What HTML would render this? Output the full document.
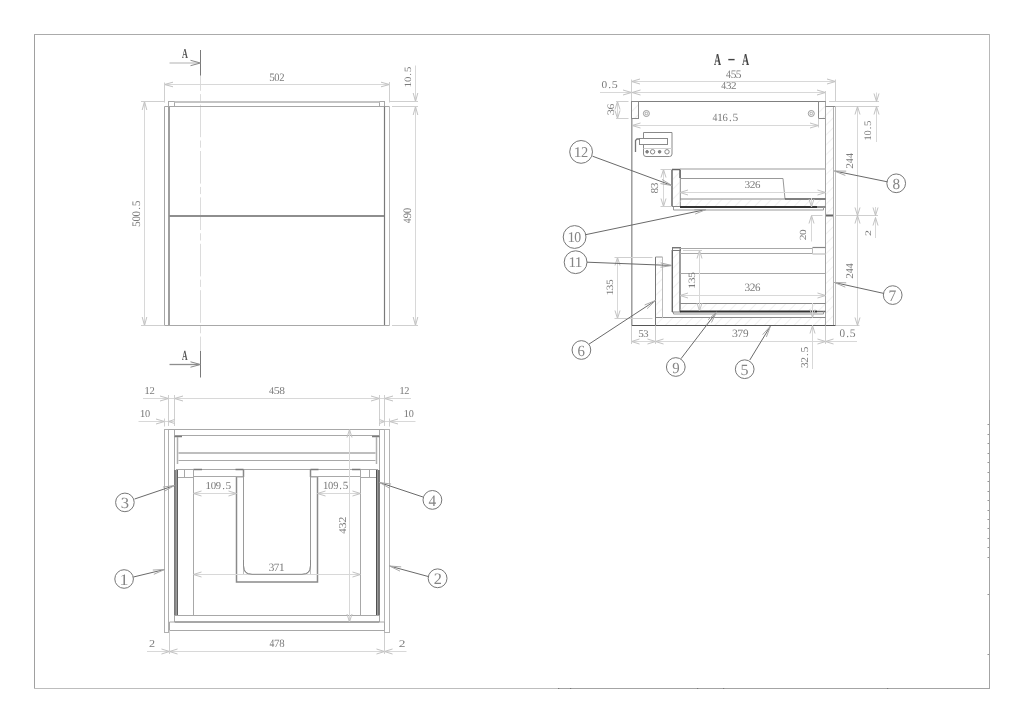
<!DOCTYPE html>
<html><head><meta charset="utf-8"><style>
html,body{margin:0;padding:0;background:#fff;}
svg{display:block;will-change:transform;}
text{text-rendering:geometricPrecision;}
</style></head><body>
<svg width="1024" height="723" viewBox="0 0 1024 723" shape-rendering="auto">
<defs>
<pattern id="hat" patternUnits="userSpaceOnUse" width="7" height="7" patternTransform="rotate(45)">
<line x1="0" y1="0" x2="0" y2="7" stroke="#e2e2e2" stroke-width="1"/>
</pattern>
</defs>
<rect width="1024" height="723" fill="#fff"/>
<line x1="34.5" y1="34" x2="34.5" y2="689" stroke="#a0a0a0" stroke-width="1" />
<line x1="34" y1="34.5" x2="990" y2="34.5" stroke="#ababab" stroke-width="1" />
<line x1="989.5" y1="34" x2="989.5" y2="400" stroke="#b8b8b8" stroke-width="1" />
<line x1="989.5" y1="400" x2="989.5" y2="689" stroke="#a4a4a4" stroke-width="1" />
<line x1="34" y1="688.5" x2="558" y2="688.5" stroke="#bdbdbd" stroke-width="1" />
<line x1="558" y1="688.5" x2="990" y2="688.5" stroke="#a4a4a4" stroke-width="1" />
<line x1="987.5" y1="424.5" x2="989" y2="424.5" stroke="#999" stroke-width="1" />
<line x1="987.5" y1="434.5" x2="989" y2="434.5" stroke="#999" stroke-width="1" />
<line x1="987.5" y1="443.5" x2="989" y2="443.5" stroke="#999" stroke-width="1" />
<line x1="987.5" y1="453.5" x2="989" y2="453.5" stroke="#999" stroke-width="1" />
<line x1="987.5" y1="462.5" x2="989" y2="462.5" stroke="#999" stroke-width="1" />
<line x1="987.5" y1="472.5" x2="989" y2="472.5" stroke="#999" stroke-width="1" />
<line x1="987.5" y1="481.5" x2="989" y2="481.5" stroke="#999" stroke-width="1" />
<line x1="987.5" y1="491.5" x2="989" y2="491.5" stroke="#999" stroke-width="1" />
<line x1="987.5" y1="500.5" x2="989" y2="500.5" stroke="#999" stroke-width="1" />
<line x1="987.5" y1="510.5" x2="989" y2="510.5" stroke="#999" stroke-width="1" />
<line x1="987.5" y1="519.5" x2="989" y2="519.5" stroke="#999" stroke-width="1" />
<line x1="987.5" y1="528.5" x2="989" y2="528.5" stroke="#999" stroke-width="1" />
<line x1="987.5" y1="538.5" x2="989" y2="538.5" stroke="#999" stroke-width="1" />
<line x1="987.5" y1="547.5" x2="989" y2="547.5" stroke="#999" stroke-width="1" />
<line x1="987.5" y1="557.5" x2="989" y2="557.5" stroke="#999" stroke-width="1" />
<line x1="987.5" y1="594.5" x2="989" y2="594.5" stroke="#999" stroke-width="1" />
<line x1="987.5" y1="654.5" x2="989" y2="654.5" stroke="#999" stroke-width="1" />
<line x1="200.5" y1="50" x2="200.5" y2="76" stroke="#7a7a7a" stroke-width="1" />
<line x1="169.5" y1="63" x2="199" y2="63" stroke="#cfcfcf" stroke-width="1.6" />
<polyline points="190.5,60.3 200.5,63 190.5,65.7" stroke="#8a8a8a" stroke-width="1" fill="none"/>
<text transform="matrix(0.08099,0,0,0.13636,181.919,58.000)" font-family='"Liberation Serif", serif' font-size="100" fill="#555" font-weight="bold">A</text>
<line x1="200.5" y1="351" x2="200.5" y2="377.5" stroke="#7a7a7a" stroke-width="1" />
<line x1="169.5" y1="364.5" x2="199" y2="364.5" stroke="#8e8e8e" stroke-width="1.3" />
<polyline points="190.5,361.8 200.5,364.5 190.5,367.2" stroke="#8a8a8a" stroke-width="1" fill="none"/>
<text transform="matrix(0.07746,0,0,0.13939,181.923,359.500)" font-family='"Liberation Serif", serif' font-size="100" fill="#555" font-weight="bold">A</text>
<line x1="200.5" y1="75.5" x2="200.5" y2="351" stroke="#dcdcdc" stroke-width="1" stroke-dasharray="32.6 3.3 7.2 3.3" stroke-dashoffset="17.3"/>
<line x1="164.5" y1="84.5" x2="389.5" y2="84.5" stroke="#d8d8d8" stroke-width="1" />
<polyline points="173.0,82.2 164.5,84.5 173.0,86.8" stroke="#c2c2c2" stroke-width="1" fill="none"/>
<polyline points="381.0,82.2 389.5,84.5 381.0,86.8" stroke="#c2c2c2" stroke-width="1" fill="none"/>
<line x1="164.5" y1="82.5" x2="164.5" y2="102.5" stroke="#cfcfcf" stroke-width="1" />
<line x1="389.5" y1="82" x2="389.5" y2="102.5" stroke="#cfcfcf" stroke-width="1" />
<text transform="matrix(0.11017,0,0,0.11343,269.139,80.587)" font-family='"Liberation Serif", serif' font-size="100" fill="#7c7c7c">5</text>
<text transform="matrix(0.10493,0,0,0.11343,274.277,80.587)" font-family='"Liberation Serif", serif' font-size="100" fill="#7c7c7c">0</text>
<text transform="matrix(0.10749,0,0,0.11343,279.163,80.587)" font-family='"Liberation Serif", serif' font-size="100" fill="#7c7c7c">2</text>
<rect x="168.5" y="101.5" width="6.0" height="5.0" stroke="#a8a8a8" stroke-width="1" fill="none"/>
<rect x="379.5" y="101.5" width="5.0" height="5.0" stroke="#a8a8a8" stroke-width="1" fill="none"/>
<line x1="174.5" y1="102" x2="379.5" y2="102" stroke="#c4c4c4" stroke-width="2" />
<line x1="164.5" y1="106.5" x2="389.5" y2="106.5" stroke="#a6a6a6" stroke-width="1" />
<line x1="164.5" y1="106.5" x2="164.5" y2="325.5" stroke="#a6a6a6" stroke-width="1" />
<line x1="389.5" y1="106.5" x2="389.5" y2="325.5" stroke="#bcbcbc" stroke-width="1" />
<line x1="169" y1="106.5" x2="169" y2="325.5" stroke="#a0a0a0" stroke-width="2" />
<line x1="384.5" y1="106.5" x2="384.5" y2="325.5" stroke="#7a7a7a" stroke-width="1.2" />
<line x1="169" y1="216" x2="384" y2="216" stroke="#8e8e8e" stroke-width="1.8" />
<line x1="164.5" y1="325.5" x2="389.5" y2="325.5" stroke="#a8a8a8" stroke-width="1" />
<line x1="144.5" y1="101.5" x2="144.5" y2="325.5" stroke="#d8d8d8" stroke-width="1" />
<polyline points="142.2,110.0 144.5,101.5 146.8,110.0" stroke="#c2c2c2" stroke-width="1" fill="none"/>
<polyline points="142.2,317.0 144.5,325.5 146.8,317.0" stroke="#c2c2c2" stroke-width="1" fill="none"/>
<line x1="141" y1="101.5" x2="164" y2="101.5" stroke="#cfcfcf" stroke-width="1" />
<line x1="141" y1="325.5" x2="164" y2="325.5" stroke="#cfcfcf" stroke-width="1" />
<text transform="matrix(0,-0.11617,0.11493,0,140.085,226.997)" font-family='"Liberation Serif", serif' font-size="100" fill="#7c7c7c">5</text>
<text transform="matrix(0,-0.11064,0.11493,0,140.085,221.579)" font-family='"Liberation Serif", serif' font-size="100" fill="#7c7c7c">0</text>
<text transform="matrix(0,-0.11064,0.11493,0,140.085,216.416)" font-family='"Liberation Serif", serif' font-size="100" fill="#7c7c7c">0</text>
<text transform="matrix(0,-0.11064,0.11493,0,140.085,209.870)" font-family='"Liberation Serif", serif' font-size="100" fill="#7c7c7c">.</text>
<text transform="matrix(0,-0.11617,0.11493,0,140.085,206.344)" font-family='"Liberation Serif", serif' font-size="100" fill="#7c7c7c">5</text>
<line x1="415.5" y1="65.5" x2="415.5" y2="101.5" stroke="#d8d8d8" stroke-width="1" />
<polyline points="413.2,93.0 415.5,101.5 417.8,93.0" stroke="#c2c2c2" stroke-width="1" fill="none"/>
<line x1="415.5" y1="106.5" x2="415.5" y2="325.5" stroke="#d8d8d8" stroke-width="1" />
<polyline points="413.2,115.0 415.5,106.5 417.8,115.0" stroke="#c2c2c2" stroke-width="1" fill="none"/>
<polyline points="413.2,317.0 415.5,325.5 417.8,317.0" stroke="#c2c2c2" stroke-width="1" fill="none"/>
<line x1="389.5" y1="101.5" x2="418" y2="101.5" stroke="#cfcfcf" stroke-width="1" />
<line x1="392" y1="106.5" x2="418" y2="106.5" stroke="#cfcfcf" stroke-width="1" />
<line x1="392" y1="325.5" x2="418" y2="325.5" stroke="#cfcfcf" stroke-width="1" />
<text transform="matrix(0,-0.11846,0.09701,0,410.903,87.478)" font-family='"Liberation Serif", serif' font-size="100" fill="#7c7c7c">1</text>
<text transform="matrix(0,-0.10769,0.09701,0,410.903,82.005)" font-family='"Liberation Serif", serif' font-size="100" fill="#7c7c7c">0</text>
<text transform="matrix(0,-0.10769,0.09701,0,410.903,75.633)" font-family='"Liberation Serif", serif' font-size="100" fill="#7c7c7c">.</text>
<text transform="matrix(0,-0.11308,0.09701,0,410.903,72.202)" font-family='"Liberation Serif", serif' font-size="100" fill="#7c7c7c">5</text>
<text transform="matrix(0,-0.09707,0.11343,0,411.387,223.194)" font-family='"Liberation Serif", serif' font-size="100" fill="#7c7c7c">4</text>
<text transform="matrix(0,-0.10609,0.11343,0,411.387,218.249)" font-family='"Liberation Serif", serif' font-size="100" fill="#7c7c7c">9</text>
<text transform="matrix(0,-0.10862,0.11343,0,411.387,213.297)" font-family='"Liberation Serif", serif' font-size="100" fill="#7c7c7c">0</text>
<line x1="143" y1="398.5" x2="411" y2="398.5" stroke="#d8d8d8" stroke-width="1" />
<polyline points="160.0,396.0 168.5,398.5 160.0,401.0" stroke="#c2c2c2" stroke-width="1" fill="none"/>
<polyline points="183.0,396.0 174.5,398.5 183.0,401.0" stroke="#c2c2c2" stroke-width="1" fill="none"/>
<polyline points="371.0,396.0 379.5,398.5 371.0,401.0" stroke="#c2c2c2" stroke-width="1" fill="none"/>
<polyline points="393.0,396.0 384.5,398.5 393.0,401.0" stroke="#c2c2c2" stroke-width="1" fill="none"/>
<line x1="168.5" y1="395" x2="168.5" y2="426" stroke="#cfcfcf" stroke-width="1" />
<line x1="174.5" y1="395" x2="174.5" y2="426" stroke="#cfcfcf" stroke-width="1" />
<line x1="379.5" y1="395" x2="379.5" y2="426" stroke="#cfcfcf" stroke-width="1" />
<line x1="384.5" y1="395" x2="384.5" y2="426" stroke="#cfcfcf" stroke-width="1" />
<text transform="matrix(0.11414,0,0,0.10448,144.154,393.896)" font-family='"Liberation Serif", serif' font-size="100" fill="#7c7c7c">1</text>
<text transform="matrix(0.10629,0,0,0.10448,149.417,393.896)" font-family='"Liberation Serif", serif' font-size="100" fill="#7c7c7c">2</text>
<text transform="matrix(0.10169,0,0,0.10448,268.997,393.896)" font-family='"Liberation Serif", serif' font-size="100" fill="#7c7c7c">4</text>
<text transform="matrix(0.11948,0,0,0.10448,273.793,393.896)" font-family='"Liberation Serif", serif' font-size="100" fill="#7c7c7c">5</text>
<text transform="matrix(0.11379,0,0,0.10448,279.366,393.896)" font-family='"Liberation Serif", serif' font-size="100" fill="#7c7c7c">8</text>
<text transform="matrix(0.11165,0,0,0.10448,399.173,393.896)" font-family='"Liberation Serif", serif' font-size="100" fill="#7c7c7c">1</text>
<text transform="matrix(0.10398,0,0,0.10448,404.321,393.896)" font-family='"Liberation Serif", serif' font-size="100" fill="#7c7c7c">2</text>
<line x1="138.5" y1="421.5" x2="174.5" y2="421.5" stroke="#d8d8d8" stroke-width="1" />
<polyline points="156.0,419.0 164.5,421.5 156.0,424.0" stroke="#c2c2c2" stroke-width="1" fill="none"/>
<polyline points="174.5,419.5 168.5,421.5 174.5,423.5" stroke="#c2c2c2" stroke-width="1" fill="none"/>
<line x1="164.5" y1="418.5" x2="164.5" y2="426.5" stroke="#cfcfcf" stroke-width="1" />
<line x1="379.5" y1="421.5" x2="415.5" y2="421.5" stroke="#d8d8d8" stroke-width="1" />
<polyline points="379.5,419.5 384.5,421.5 379.5,423.5" stroke="#c2c2c2" stroke-width="1" fill="none"/>
<polyline points="398.0,419.0 389.5,421.5 398.0,424.0" stroke="#c2c2c2" stroke-width="1" fill="none"/>
<line x1="389.5" y1="418.5" x2="389.5" y2="426.5" stroke="#cfcfcf" stroke-width="1" />
<text transform="matrix(0.11352,0,0,0.10448,139.759,416.896)" font-family='"Liberation Serif", serif' font-size="100" fill="#7c7c7c">1</text>
<text transform="matrix(0.10320,0,0,0.10448,145.003,416.896)" font-family='"Liberation Serif", serif' font-size="100" fill="#7c7c7c">0</text>
<text transform="matrix(0.11165,0,0,0.10448,403.573,416.896)" font-family='"Liberation Serif", serif' font-size="100" fill="#7c7c7c">1</text>
<text transform="matrix(0.10150,0,0,0.10448,408.731,416.896)" font-family='"Liberation Serif", serif' font-size="100" fill="#7c7c7c">0</text>
<rect x="164.5" y="429.5" width="4.0" height="203.0" stroke="#b0b0b0" stroke-width="1" fill="none"/>
<rect x="384.5" y="429.5" width="5.0" height="203.0" stroke="#b4b4b4" stroke-width="1" fill="none"/>
<line x1="168.5" y1="429.5" x2="384.5" y2="429.5" stroke="#a8a8a8" stroke-width="1" />
<line x1="174.5" y1="429.5" x2="174.5" y2="622" stroke="#a8a8a8" stroke-width="1" />
<line x1="379.5" y1="429.5" x2="379.5" y2="622" stroke="#a8a8a8" stroke-width="1" />
<line x1="174.5" y1="435.5" x2="379.5" y2="435.5" stroke="#a8a8a8" stroke-width="1" />
<line x1="174.5" y1="436.5" x2="182" y2="436.5" stroke="#7a7a7a" stroke-width="1.5" />
<line x1="372" y1="436.5" x2="379.5" y2="436.5" stroke="#7a7a7a" stroke-width="1.5" />
<line x1="177.5" y1="437" x2="177.5" y2="464" stroke="#b0b0b0" stroke-width="1.5" />
<line x1="376.5" y1="437" x2="376.5" y2="464" stroke="#b0b0b0" stroke-width="1.5" />
<line x1="178.5" y1="453" x2="375.5" y2="453" stroke="#a8a8a8" stroke-width="1.5" />
<line x1="178.5" y1="460.5" x2="375.5" y2="460.5" stroke="#a8a8a8" stroke-width="1" />
<line x1="176" y1="469.5" x2="378" y2="469.5" stroke="#a8a8a8" stroke-width="1" />
<line x1="193.5" y1="469.5" x2="202" y2="469.5" stroke="#7a7a7a" stroke-width="1.5" />
<line x1="235.5" y1="469.5" x2="243.5" y2="469.5" stroke="#7a7a7a" stroke-width="1.5" />
<line x1="310.5" y1="469.5" x2="318.5" y2="469.5" stroke="#7a7a7a" stroke-width="1.5" />
<line x1="352" y1="469.5" x2="360.5" y2="469.5" stroke="#7a7a7a" stroke-width="1.5" />
<line x1="184.5" y1="469.5" x2="184.5" y2="477.5" stroke="#a8a8a8" stroke-width="1" />
<line x1="369.5" y1="469.5" x2="369.5" y2="477.5" stroke="#a8a8a8" stroke-width="1" />
<line x1="193.5" y1="476.5" x2="243.5" y2="476.5" stroke="#a8a8a8" stroke-width="1" />
<line x1="310.5" y1="476.5" x2="360.5" y2="476.5" stroke="#a8a8a8" stroke-width="1" />
<line x1="176" y1="477.5" x2="193.5" y2="477.5" stroke="#a8a8a8" stroke-width="1" />
<line x1="360.5" y1="477.5" x2="378" y2="477.5" stroke="#a8a8a8" stroke-width="1" />
<line x1="193.5" y1="469.5" x2="193.5" y2="615.5" stroke="#a8a8a8" stroke-width="1" />
<line x1="360.5" y1="469.5" x2="360.5" y2="615.5" stroke="#a8a8a8" stroke-width="1" />
<line x1="243.5" y1="469.5" x2="243.5" y2="477" stroke="#888" stroke-width="1.5" />
<line x1="310.5" y1="469.5" x2="310.5" y2="477" stroke="#888" stroke-width="1.5" />
<path d="M236.5,477 V582 H317.5 V477" stroke="#8a8a8a" stroke-width="1.5" fill="none"/>
<path d="M243.5,477 V566 Q243.5,574.5 252,574.5 H302 Q310.5,574.5 310.5,566 V477" stroke="#9a9a9a" stroke-width="1" fill="none"/>
<line x1="243.5" y1="566" x2="243.5" y2="574.5" stroke="#c0c0c0" stroke-width="1" />
<line x1="310.5" y1="566" x2="310.5" y2="574.5" stroke="#c0c0c0" stroke-width="1" />
<line x1="236.5" y1="477" x2="243.5" y2="477" stroke="#a8a8a8" stroke-width="1" />
<line x1="310.5" y1="477" x2="317.5" y2="477" stroke="#a8a8a8" stroke-width="1" />
<rect x="174" y="470" width="1" height="145.5" fill="#7a7a7a"/>
<rect x="175" y="470" width="1" height="145.5" fill="#888"/>
<rect x="176" y="470" width="1" height="145.5" fill="#9a9a9a"/>
<rect x="177" y="470" width="1" height="145.5" fill="#606060"/>
<rect x="376" y="470" width="1" height="145.5" fill="#505050"/>
<rect x="377" y="470" width="1" height="145.5" fill="#999"/>
<rect x="378" y="470" width="1" height="145.5" fill="#777"/>
<rect x="379" y="470" width="1" height="145.5" fill="#7a7a7a"/>
<line x1="174.5" y1="615.5" x2="379.5" y2="615.5" stroke="#a8a8a8" stroke-width="1" />
<line x1="174.5" y1="615.5" x2="174.5" y2="622" stroke="#a8a8a8" stroke-width="1" />
<line x1="379.5" y1="615.5" x2="379.5" y2="622" stroke="#a8a8a8" stroke-width="1" />
<line x1="174.5" y1="622" x2="379.5" y2="622" stroke="#8a8a8a" stroke-width="1.5" />
<line x1="169.5" y1="622" x2="169.5" y2="630.5" stroke="#a8a8a8" stroke-width="1" />
<line x1="384.5" y1="622" x2="384.5" y2="630.5" stroke="#a8a8a8" stroke-width="1" />
<line x1="169.5" y1="630.5" x2="384.5" y2="630.5" stroke="#a8a8a8" stroke-width="1" />
<line x1="169.5" y1="622" x2="174.5" y2="622" stroke="#a8a8a8" stroke-width="1" />
<line x1="379.5" y1="622" x2="384.5" y2="622" stroke="#a8a8a8" stroke-width="1" />
<line x1="193.5" y1="493.5" x2="236.5" y2="493.5" stroke="#d8d8d8" stroke-width="1" />
<polyline points="201.5,491.0 193.5,493.5 201.5,496.0" stroke="#c2c2c2" stroke-width="1" fill="none"/>
<polyline points="228.5,491.0 236.5,493.5 228.5,496.0" stroke="#c2c2c2" stroke-width="1" fill="none"/>
<line x1="317.5" y1="493.5" x2="360.5" y2="493.5" stroke="#d8d8d8" stroke-width="1" />
<polyline points="325.5,491.0 317.5,493.5 325.5,496.0" stroke="#c2c2c2" stroke-width="1" fill="none"/>
<polyline points="352.5,491.0 360.5,493.5 352.5,496.0" stroke="#c2c2c2" stroke-width="1" fill="none"/>
<text transform="matrix(0.11882,0,0,0.10597,205.220,489.194)" font-family='"Liberation Serif", serif' font-size="100" fill="#7c7c7c">1</text>
<text transform="matrix(0.10802,0,0,0.10597,210.709,489.194)" font-family='"Liberation Serif", serif' font-size="100" fill="#7c7c7c">0</text>
<text transform="matrix(0.10551,0,0,0.10597,215.865,489.194)" font-family='"Liberation Serif", serif' font-size="100" fill="#7c7c7c">9</text>
<text transform="matrix(0.10802,0,0,0.10597,222.141,489.194)" font-family='"Liberation Serif", serif' font-size="100" fill="#7c7c7c">.</text>
<text transform="matrix(0.11342,0,0,0.10597,225.583,489.194)" font-family='"Liberation Serif", serif' font-size="100" fill="#7c7c7c">5</text>
<text transform="matrix(0.11641,0,0,0.10896,322.737,489.391)" font-family='"Liberation Serif", serif' font-size="100" fill="#7c7c7c">1</text>
<text transform="matrix(0.10583,0,0,0.10896,328.115,489.391)" font-family='"Liberation Serif", serif' font-size="100" fill="#7c7c7c">0</text>
<text transform="matrix(0.10337,0,0,0.10896,333.167,489.391)" font-family='"Liberation Serif", serif' font-size="100" fill="#7c7c7c">9</text>
<text transform="matrix(0.10583,0,0,0.10896,339.316,489.391)" font-family='"Liberation Serif", serif' font-size="100" fill="#7c7c7c">.</text>
<text transform="matrix(0.11112,0,0,0.10896,342.688,489.391)" font-family='"Liberation Serif", serif' font-size="100" fill="#7c7c7c">5</text>
<line x1="193.5" y1="574.5" x2="360.5" y2="574.5" stroke="#d8d8d8" stroke-width="1" />
<polyline points="201.5,572.0 193.5,574.5 201.5,577.0" stroke="#c2c2c2" stroke-width="1" fill="none"/>
<polyline points="352.5,572.0 360.5,574.5 352.5,577.0" stroke="#c2c2c2" stroke-width="1" fill="none"/>
<text transform="matrix(0.11278,0,0,0.11194,268.836,570.588)" font-family='"Liberation Serif", serif' font-size="100" fill="#7c7c7c">3</text>
<text transform="matrix(0.11278,0,0,0.11194,273.861,570.588)" font-family='"Liberation Serif", serif' font-size="100" fill="#7c7c7c">7</text>
<text transform="matrix(0.12111,0,0,0.11194,278.779,570.588)" font-family='"Liberation Serif", serif' font-size="100" fill="#7c7c7c">1</text>
<path d="M243.5,560 V565.5 Q243.5,574.3 252,574.3 H302 Q310.5,574.3 310.5,565.5 V560" stroke="#8a8a8a" stroke-width="1" fill="none"/>
<line x1="349.5" y1="429.5" x2="349.5" y2="622" stroke="#d8d8d8" stroke-width="1" />
<polyline points="347.0,437.5 349.5,429.5 352.0,437.5" stroke="#c2c2c2" stroke-width="1" fill="none"/>
<polyline points="347.0,614 349.5,622 352.0,614" stroke="#c2c2c2" stroke-width="1" fill="none"/>
<text transform="matrix(0,-0.10697,0.10448,0,345.896,533.714)" font-family='"Liberation Serif", serif' font-size="100" fill="#7c7c7c">4</text>
<text transform="matrix(0,-0.12262,0.10448,0,345.896,528.527)" font-family='"Liberation Serif", serif' font-size="100" fill="#7c7c7c">3</text>
<text transform="matrix(0,-0.12262,0.10448,0,345.896,522.818)" font-family='"Liberation Serif", serif' font-size="100" fill="#7c7c7c">2</text>
<line x1="147" y1="651.5" x2="406.5" y2="651.5" stroke="#d8d8d8" stroke-width="1" />
<polyline points="161.5,649.0 169.5,651.5 161.5,654.0" stroke="#c2c2c2" stroke-width="1" fill="none"/>
<polyline points="177.5,649.0 169.5,651.5 177.5,654.0" stroke="#c2c2c2" stroke-width="1" fill="none"/>
<polyline points="376.5,649.0 384.5,651.5 376.5,654.0" stroke="#c2c2c2" stroke-width="1" fill="none"/>
<polyline points="392.5,649.0 384.5,651.5 392.5,654.0" stroke="#c2c2c2" stroke-width="1" fill="none"/>
<line x1="169.5" y1="631" x2="169.5" y2="654" stroke="#cfcfcf" stroke-width="1" />
<line x1="384.5" y1="633" x2="384.5" y2="654" stroke="#cfcfcf" stroke-width="1" />
<text transform="matrix(0.12195,0,0,0.10615,148.912,646.900)" font-family='"Liberation Serif", serif' font-size="100" fill="#7c7c7c">2</text>
<text transform="matrix(0.09640,0,0,0.11194,269.507,646.988)" font-family='"Liberation Serif", serif' font-size="100" fill="#7c7c7c">4</text>
<text transform="matrix(0.11051,0,0,0.11194,274.071,646.988)" font-family='"Liberation Serif", serif' font-size="100" fill="#7c7c7c">7</text>
<text transform="matrix(0.10788,0,0,0.11194,279.337,646.988)" font-family='"Liberation Serif", serif' font-size="100" fill="#7c7c7c">8</text>
<text transform="matrix(0.13415,0,0,0.10154,398.663,646.900)" font-family='"Liberation Serif", serif' font-size="100" fill="#7c7c7c">2</text>
<circle cx="124.9" cy="502.4" r="9.3" stroke="#777" stroke-width="1" fill="none"/>
<line x1="134.6" y1="499" x2="174.5" y2="485.5" stroke="#6a6a6a" stroke-width="1" />
<polyline points="164.31172905407365,491.2696737457497 174.5,485.5 162.9015384582726,487.1017770959376" stroke="#aaa" stroke-width="1" fill="none"/>
<text transform="matrix(0.16585,0,0,0.15522,120.671,508.145)" font-family='"Liberation Serif", serif' font-size="100" fill="#858585">3</text>
<circle cx="124.1" cy="579" r="9.3" stroke="#777" stroke-width="1" fill="none"/>
<line x1="133.4" y1="577" x2="164.5" y2="569.5" stroke="#6a6a6a" stroke-width="1" />
<polyline points="153.83625039836306,574.3347124458014 164.5,569.5 152.80472837915153,570.0573344728043" stroke="#aaa" stroke-width="1" fill="none"/>
<text transform="matrix(0.18000,0,0,0.16000,119.380,584.800)" font-family='"Liberation Serif", serif' font-size="100" fill="#858585">1</text>
<circle cx="432.4" cy="499.9" r="9.4" stroke="#777" stroke-width="1" fill="none"/>
<line x1="423" y1="497" x2="379.5" y2="482.5" stroke="#6a6a6a" stroke-width="1" />
<polyline points="391.10555901281793,484.0495160534825 379.5,482.5 389.71415684234387,488.2237225649048" stroke="#aaa" stroke-width="1" fill="none"/>
<text transform="matrix(0.15319,0,0,0.16000,428.494,505.800)" font-family='"Liberation Serif", serif' font-size="100" fill="#858585">4</text>
<circle cx="437.6" cy="578.3" r="9.4" stroke="#777" stroke-width="1" fill="none"/>
<line x1="428.2" y1="576.5" x2="389.5" y2="566" stroke="#6a6a6a" stroke-width="1" />
<polyline points="401.1748177082648,566.8880492547074 389.5,566 400.0226729296216,571.134525724564" stroke="#aaa" stroke-width="1" fill="none"/>
<text transform="matrix(0.16341,0,0,0.16000,433.646,584.100)" font-family='"Liberation Serif", serif' font-size="100" fill="#858585">2</text>
<text transform="matrix(0.09718,0,0,0.16515,713.903,64.900)" font-family='"Liberation Serif", serif' font-size="100" fill="#444" font-weight="bold">A</text>
<text transform="matrix(0.09859,0,0,0.16515,742.001,64.900)" font-family='"Liberation Serif", serif' font-size="100" fill="#444" font-weight="bold">A</text>
<rect x="728.3" y="58.9" width="6.300000000000068" height="1.3999999999999986" fill="#444"/>
<line x1="631.5" y1="81.5" x2="835.5" y2="81.5" stroke="#d8d8d8" stroke-width="1" />
<polyline points="640.0,79.0 631.5,81.5 640.0,84.0" stroke="#c2c2c2" stroke-width="1" fill="none"/>
<polyline points="827.0,79.0 835.5,81.5 827.0,84.0" stroke="#c2c2c2" stroke-width="1" fill="none"/>
<text transform="matrix(0.09773,0,0,0.11493,726.105,77.685)" font-family='"Liberation Serif", serif' font-size="100" fill="#7c7c7c">4</text>
<text transform="matrix(0.11483,0,0,0.11493,730.714,77.685)" font-family='"Liberation Serif", serif' font-size="100" fill="#7c7c7c">5</text>
<text transform="matrix(0.11483,0,0,0.11493,735.818,77.685)" font-family='"Liberation Serif", serif' font-size="100" fill="#7c7c7c">5</text>
<line x1="600" y1="92.5" x2="825.5" y2="92.5" stroke="#d8d8d8" stroke-width="1" />
<polyline points="623.0,90.0 631.5,92.5 623.0,95.0" stroke="#c2c2c2" stroke-width="1" fill="none"/>
<polyline points="640.5,90.0 632,92.5 640.5,95.0" stroke="#c2c2c2" stroke-width="1" fill="none"/>
<polyline points="817.0,90.0 825.5,92.5 817.0,95.0" stroke="#c2c2c2" stroke-width="1" fill="none"/>
<text transform="matrix(0.09707,0,0,0.10597,721.206,88.694)" font-family='"Liberation Serif", serif' font-size="100" fill="#7c7c7c">4</text>
<text transform="matrix(0.11127,0,0,0.10597,725.913,88.694)" font-family='"Liberation Serif", serif' font-size="100" fill="#7c7c7c">3</text>
<text transform="matrix(0.11127,0,0,0.10597,731.093,88.694)" font-family='"Liberation Serif", serif' font-size="100" fill="#7c7c7c">2</text>
<text transform="matrix(0.11305,0,0,0.10448,601.548,88.196)" font-family='"Liberation Serif", serif' font-size="100" fill="#7c7c7c">0</text>
<text transform="matrix(0.11305,0,0,0.10448,608.237,88.196)" font-family='"Liberation Serif", serif' font-size="100" fill="#7c7c7c">.</text>
<text transform="matrix(0.11871,0,0,0.10448,611.839,88.196)" font-family='"Liberation Serif", serif' font-size="100" fill="#7c7c7c">5</text>
<line x1="631.5" y1="79.5" x2="631.5" y2="101.5" stroke="#cfcfcf" stroke-width="1" />
<line x1="835.5" y1="79.5" x2="835.5" y2="102" stroke="#cfcfcf" stroke-width="1" />
<line x1="825.5" y1="91" x2="825.5" y2="101.5" stroke="#cfcfcf" stroke-width="1" />
<line x1="617.5" y1="101.5" x2="617.5" y2="118.5" stroke="#d8d8d8" stroke-width="1" />
<polyline points="615.0,109.5 617.5,101.5 620.0,109.5" stroke="#c2c2c2" stroke-width="1" fill="none"/>
<polyline points="615.0,110.5 617.5,118.5 620.0,110.5" stroke="#c2c2c2" stroke-width="1" fill="none"/>
<line x1="616" y1="101.5" x2="628.5" y2="101.5" stroke="#cfcfcf" stroke-width="1" />
<line x1="616" y1="118.5" x2="628.5" y2="118.5" stroke="#cfcfcf" stroke-width="1" />
<text transform="matrix(0,-0.12362,0.10000,0,613.900,115.318)" font-family='"Liberation Serif", serif' font-size="100" fill="#7c7c7c">3</text>
<text transform="matrix(0,-0.11787,0.10000,0,613.900,109.540)" font-family='"Liberation Serif", serif' font-size="100" fill="#7c7c7c">6</text>
<line x1="631.5" y1="101.5" x2="825.5" y2="101.5" stroke="#808080" stroke-width="1" />
<line x1="631.5" y1="101.5" x2="631.5" y2="325.5" stroke="#a0a0a0" stroke-width="1" />
<line x1="632.5" y1="118.5" x2="632.5" y2="325" stroke="#cacaca" stroke-width="1" />
<rect x="632" y="102" width="6" height="16" fill="url(#hat)"/>
<rect x="631.5" y="101.5" width="7.0" height="17.0" stroke="#8a8a8a" stroke-width="1" fill="none"/>
<rect x="819" y="102" width="6" height="16" fill="url(#hat)"/>
<rect x="818.5" y="101.5" width="7.0" height="17.0" stroke="#8a8a8a" stroke-width="1" fill="none"/>
<line x1="818.5" y1="118.5" x2="818.5" y2="127.5" stroke="#cfcfcf" stroke-width="1" />
<circle cx="646.4" cy="113.5" r="3" stroke="#999" stroke-width="1" fill="none"/>
<circle cx="646.4" cy="113.5" r="1.3" stroke="#999" stroke-width="0.8" fill="none"/>
<circle cx="811.3" cy="113.5" r="3" stroke="#999" stroke-width="1" fill="none"/>
<circle cx="811.3" cy="113.5" r="1.3" stroke="#999" stroke-width="0.8" fill="none"/>
<line x1="632" y1="125.5" x2="818.5" y2="125.5" stroke="#d8d8d8" stroke-width="1" />
<polyline points="640.5,123.0 632,125.5 640.5,128.0" stroke="#c2c2c2" stroke-width="1" fill="none"/>
<polyline points="810.0,123.0 818.5,125.5 810.0,128.0" stroke="#c2c2c2" stroke-width="1" fill="none"/>
<text transform="matrix(0.09770,0,0,0.11045,712.505,121.090)" font-family='"Liberation Serif", serif' font-size="100" fill="#7c7c7c">4</text>
<text transform="matrix(0.12026,0,0,0.11045,716.911,121.090)" font-family='"Liberation Serif", serif' font-size="100" fill="#7c7c7c">1</text>
<text transform="matrix(0.10679,0,0,0.11045,722.477,121.090)" font-family='"Liberation Serif", serif' font-size="100" fill="#7c7c7c">6</text>
<text transform="matrix(0.10933,0,0,0.11045,728.935,121.090)" font-family='"Liberation Serif", serif' font-size="100" fill="#7c7c7c">.</text>
<text transform="matrix(0.11480,0,0,0.11045,732.419,121.090)" font-family='"Liberation Serif", serif' font-size="100" fill="#7c7c7c">5</text>
<rect x="826" y="107" width="7" height="218" fill="url(#hat)"/>
<line x1="825.5" y1="101.5" x2="825.5" y2="325.5" stroke="#a4a4a4" stroke-width="1" />
<line x1="833.5" y1="106.5" x2="833.5" y2="325.5" stroke="#b0b0b0" stroke-width="1" />
<line x1="835.5" y1="106.5" x2="835.5" y2="325.5" stroke="#bdbdbd" stroke-width="1" />
<line x1="825.5" y1="106.5" x2="835.5" y2="106.5" stroke="#8a8a8a" stroke-width="1" />
<line x1="826" y1="215.5" x2="833" y2="215.5" stroke="#666" stroke-width="2" />
<line x1="829" y1="101.5" x2="879" y2="101.5" stroke="#cfcfcf" stroke-width="1" />
<line x1="835.5" y1="106.5" x2="879" y2="106.5" stroke="#cfcfcf" stroke-width="1" />
<line x1="835.5" y1="215.5" x2="878" y2="215.5" stroke="#cfcfcf" stroke-width="1" />
<line x1="835.5" y1="325.5" x2="859.5" y2="325.5" stroke="#cfcfcf" stroke-width="1" />
<line x1="876.5" y1="92.5" x2="876.5" y2="101.5" stroke="#d8d8d8" stroke-width="1" />
<polyline points="874.0,93.5 876.5,101.5 879.0,93.5" stroke="#c2c2c2" stroke-width="1" fill="none"/>
<line x1="876.5" y1="106.5" x2="876.5" y2="142" stroke="#d8d8d8" stroke-width="1" />
<polyline points="874.0,114.5 876.5,106.5 879.0,114.5" stroke="#c2c2c2" stroke-width="1" fill="none"/>
<text transform="matrix(0,-0.11484,0.10000,0,871.200,140.851)" font-family='"Liberation Serif", serif' font-size="100" fill="#7c7c7c">1</text>
<text transform="matrix(0,-0.10440,0.10000,0,871.200,135.546)" font-family='"Liberation Serif", serif' font-size="100" fill="#7c7c7c">0</text>
<text transform="matrix(0,-0.10440,0.10000,0,871.200,129.369)" font-family='"Liberation Serif", serif' font-size="100" fill="#7c7c7c">.</text>
<text transform="matrix(0,-0.10962,0.10000,0,871.200,126.042)" font-family='"Liberation Serif", serif' font-size="100" fill="#7c7c7c">5</text>
<line x1="857.5" y1="106.5" x2="857.5" y2="325.5" stroke="#d8d8d8" stroke-width="1" />
<polyline points="855.0,114.5 857.5,106.5 860.0,114.5" stroke="#c2c2c2" stroke-width="1" fill="none"/>
<polyline points="855.0,207.5 857.5,215.5 860.0,207.5" stroke="#c2c2c2" stroke-width="1" fill="none"/>
<polyline points="855.0,223.5 857.5,215.5 860.0,223.5" stroke="#c2c2c2" stroke-width="1" fill="none"/>
<polyline points="855.0,317.5 857.5,325.5 860.0,317.5" stroke="#c2c2c2" stroke-width="1" fill="none"/>
<text transform="matrix(0,-0.11430,0.10448,0,852.896,168.757)" font-family='"Liberation Serif", serif' font-size="100" fill="#7c7c7c">2</text>
<text transform="matrix(0,-0.09971,0.10448,0,852.896,163.293)" font-family='"Liberation Serif", serif' font-size="100" fill="#7c7c7c">4</text>
<text transform="matrix(0,-0.09971,0.10448,0,852.896,158.086)" font-family='"Liberation Serif", serif' font-size="100" fill="#7c7c7c">4</text>
<text transform="matrix(0,-0.11354,0.10448,0,852.896,278.754)" font-family='"Liberation Serif", serif' font-size="100" fill="#7c7c7c">2</text>
<text transform="matrix(0,-0.09905,0.10448,0,852.896,273.326)" font-family='"Liberation Serif", serif' font-size="100" fill="#7c7c7c">4</text>
<text transform="matrix(0,-0.09905,0.10448,0,852.896,268.153)" font-family='"Liberation Serif", serif' font-size="100" fill="#7c7c7c">4</text>
<line x1="875.5" y1="207" x2="875.5" y2="215.5" stroke="#d8d8d8" stroke-width="1" />
<polyline points="873.0,207.5 875.5,215.5 878.0,207.5" stroke="#c2c2c2" stroke-width="1" fill="none"/>
<line x1="875.5" y1="217.5" x2="875.5" y2="238" stroke="#d8d8d8" stroke-width="1" />
<polyline points="873.0,225.5 875.5,217.5 878.0,225.5" stroke="#c2c2c2" stroke-width="1" fill="none"/>
<text transform="matrix(0,-0.11951,0.08462,0,871.000,235.978)" font-family='"Liberation Serif", serif' font-size="100" fill="#7c7c7c">2</text>
<path d="M643.5,138.5 V132.5 H672 V154 Q672,156.5 669.5,156.5 H646 Q643.5,156.5 643.5,154 V144.5" stroke="#8a8a8a" fill="none" stroke-width="1"/>
<rect x="639.5" y="138.5" width="28.0" height="6.0" stroke="#8a8a8a" stroke-width="1" fill="#fff"/>
<path d="M635.5,152 V140.5 L637,139 H639.5" stroke="#777" fill="none" stroke-width="1.3"/>
<line x1="643.5" y1="148.5" x2="672" y2="148.5" stroke="#d0d0d0" stroke-width="1" />
<circle cx="647.1" cy="151.8" r="1.3" stroke="#777" stroke-width="1" fill="#888"/>
<circle cx="652.6" cy="151.8" r="2.2" stroke="#888" stroke-width="1" fill="none"/>
<circle cx="659.6" cy="151.8" r="1.3" stroke="#777" stroke-width="1" fill="#888"/>
<circle cx="667" cy="151.8" r="2.2" stroke="#888" stroke-width="1" fill="none"/>
<rect x="673" y="170" width="6.5" height="36.5" fill="url(#hat)"/>
<rect x="672" y="169.5" width="8.299999999999955" height="37.0" stroke="#888" stroke-width="1" fill="none"/>
<line x1="672" y1="169.5" x2="672" y2="206.5" stroke="#777" stroke-width="1.4" />
<line x1="672" y1="169.5" x2="680.5" y2="169.5" stroke="#666" stroke-width="1.5" />
<line x1="680" y1="169.5" x2="680" y2="178" stroke="#666" stroke-width="1.5" />
<line x1="680" y1="169" x2="825.5" y2="169" stroke="#bdbdbd" stroke-width="1.6" />
<path d="M680,178.5 H783 L785,199" stroke="#999" fill="none" stroke-width="1"/>
<rect x="680" y="199.5" width="145" height="7.0" fill="url(#hat)"/>
<line x1="680" y1="199" x2="785" y2="199" stroke="#8a8a8a" stroke-width="1" />
<line x1="785" y1="199" x2="825.5" y2="199" stroke="#555" stroke-width="1.4" />
<line x1="680" y1="207" x2="817" y2="207" stroke="#333" stroke-width="1.8" />
<line x1="817" y1="207" x2="825.5" y2="207" stroke="#666" stroke-width="1.5" />
<path d="M673.5,207 V210 H823.5 V207" stroke="#9a9a9a" fill="none" stroke-width="1"/>
<line x1="680" y1="192.5" x2="825.5" y2="192.5" stroke="#d8d8d8" stroke-width="1" />
<polyline points="688,190.0 680,192.5 688,195.0" stroke="#c2c2c2" stroke-width="1" fill="none"/>
<polyline points="817.5,190.0 825.5,192.5 817.5,195.0" stroke="#c2c2c2" stroke-width="1" fill="none"/>
<text transform="matrix(0.11430,0,0,0.10448,744.529,188.096)" font-family='"Liberation Serif", serif' font-size="100" fill="#7c7c7c">3</text>
<text transform="matrix(0.11430,0,0,0.10448,749.850,188.096)" font-family='"Liberation Serif", serif' font-size="100" fill="#7c7c7c">2</text>
<text transform="matrix(0.10898,0,0,0.10448,755.078,188.096)" font-family='"Liberation Serif", serif' font-size="100" fill="#7c7c7c">6</text>
<line x1="663.5" y1="169.5" x2="663.5" y2="206.5" stroke="#d8d8d8" stroke-width="1" />
<polyline points="661.0,177.5 663.5,169.5 666.0,177.5" stroke="#c2c2c2" stroke-width="1" fill="none"/>
<polyline points="661.0,198.5 663.5,206.5 666.0,198.5" stroke="#c2c2c2" stroke-width="1" fill="none"/>
<line x1="660.5" y1="169.5" x2="672" y2="169.5" stroke="#cfcfcf" stroke-width="1" />
<line x1="660.5" y1="206.5" x2="672" y2="206.5" stroke="#cfcfcf" stroke-width="1" />
<text transform="matrix(0,-0.11278,0.10597,0,658.494,193.451)" font-family='"Liberation Serif", serif' font-size="100" fill="#7c7c7c">8</text>
<text transform="matrix(0,-0.11553,0.10597,0,658.494,188.315)" font-family='"Liberation Serif", serif' font-size="100" fill="#7c7c7c">3</text>
<line x1="811.5" y1="198" x2="811.5" y2="207" stroke="#d8d8d8" stroke-width="1" />
<polyline points="809.0,199 811.5,207 814.0,199" stroke="#c2c2c2" stroke-width="1" fill="none"/>
<line x1="811.5" y1="215.5" x2="811.5" y2="241.5" stroke="#d8d8d8" stroke-width="1" />
<polyline points="809.0,223.5 811.5,215.5 814.0,223.5" stroke="#c2c2c2" stroke-width="1" fill="none"/>
<line x1="811.5" y1="215.5" x2="822.5" y2="215.5" stroke="#cfcfcf" stroke-width="1" />
<text transform="matrix(0,-0.11438,0.09403,0,806.406,240.258)" font-family='"Liberation Serif", serif' font-size="100" fill="#7c7c7c">2</text>
<text transform="matrix(0,-0.11165,0.09403,0,806.406,235.036)" font-family='"Liberation Serif", serif' font-size="100" fill="#7c7c7c">0</text>
<rect x="673" y="251" width="6.5" height="60.5" fill="url(#hat)"/>
<rect x="672.5" y="248" width="7.5" height="64" stroke="#888" stroke-width="1" fill="none"/>
<line x1="672.3" y1="250" x2="672.3" y2="312" stroke="#666" stroke-width="1.4" />
<line x1="680" y1="250" x2="680" y2="312" stroke="#888" stroke-width="1.3" />
<rect x="672.5" y="247.5" width="8.0" height="3.0" stroke="#777" stroke-width="1" fill="none"/>
<line x1="680" y1="248.5" x2="812.5" y2="248.5" stroke="#a8a8a8" stroke-width="1" />
<line x1="680" y1="253.5" x2="812.5" y2="253.5" stroke="#a8a8a8" stroke-width="1" />
<line x1="812.5" y1="247.5" x2="825.5" y2="247.5" stroke="#888" stroke-width="1.2" />
<line x1="812.5" y1="247.5" x2="812.5" y2="254" stroke="#bbb" stroke-width="1" />
<line x1="812.5" y1="254" x2="825.5" y2="254" stroke="#ccc" stroke-width="1.5" />
<line x1="680" y1="273.5" x2="825.5" y2="273.5" stroke="#a8a8a8" stroke-width="1" />
<line x1="680" y1="295.5" x2="825.5" y2="295.5" stroke="#d8d8d8" stroke-width="1" />
<polyline points="688,293.0 680,295.5 688,298.0" stroke="#c2c2c2" stroke-width="1" fill="none"/>
<polyline points="817.5,293.0 825.5,295.5 817.5,298.0" stroke="#c2c2c2" stroke-width="1" fill="none"/>
<text transform="matrix(0.11430,0,0,0.11194,744.529,291.088)" font-family='"Liberation Serif", serif' font-size="100" fill="#7c7c7c">3</text>
<text transform="matrix(0.11430,0,0,0.11194,749.850,291.088)" font-family='"Liberation Serif", serif' font-size="100" fill="#7c7c7c">2</text>
<text transform="matrix(0.10898,0,0,0.11194,755.078,291.088)" font-family='"Liberation Serif", serif' font-size="100" fill="#7c7c7c">6</text>
<rect x="680" y="304" width="145" height="7" fill="url(#hat)"/>
<line x1="680" y1="303.5" x2="825.5" y2="303.5" stroke="#8a8a8a" stroke-width="1" />
<line x1="680" y1="311.5" x2="817" y2="311.5" stroke="#333" stroke-width="1.8" />
<line x1="817" y1="311.5" x2="825.5" y2="311.5" stroke="#666" stroke-width="1.5" />
<path d="M673.5,312 V314 H823.5 V311.5" stroke="#9a9a9a" fill="none" stroke-width="1"/>
<line x1="699.5" y1="250.5" x2="699.5" y2="311" stroke="#d8d8d8" stroke-width="1" />
<polyline points="697.0,258.5 699.5,250.5 702.0,258.5" stroke="#c2c2c2" stroke-width="1" fill="none"/>
<polyline points="697.0,303 699.5,311 702.0,303" stroke="#c2c2c2" stroke-width="1" fill="none"/>
<line x1="683" y1="250.5" x2="702" y2="250.5" stroke="#cfcfcf" stroke-width="1" />
<text transform="matrix(0,-0.12680,0.09701,0,694.903,289.039)" font-family='"Liberation Serif", serif' font-size="100" fill="#7c7c7c">1</text>
<text transform="matrix(0,-0.11808,0.09701,0,694.903,283.311)" font-family='"Liberation Serif", serif' font-size="100" fill="#7c7c7c">3</text>
<text transform="matrix(0,-0.12103,0.09701,0,694.903,278.068)" font-family='"Liberation Serif", serif' font-size="100" fill="#7c7c7c">5</text>
<rect x="656" y="318" width="169" height="7" fill="url(#hat)"/>
<line x1="655.5" y1="317.5" x2="825.5" y2="317.5" stroke="#8a8a8a" stroke-width="1" />
<line x1="631.5" y1="325.5" x2="835.5" y2="325.5" stroke="#555" stroke-width="1.2" />
<rect x="656" y="257.5" width="6.5" height="60.5" fill="url(#hat)"/>
<line x1="655.5" y1="257" x2="655.5" y2="325.5" stroke="#777" stroke-width="1" />
<line x1="655.5" y1="257" x2="662.5" y2="257" stroke="#999" stroke-width="1" />
<line x1="662.5" y1="257" x2="662.5" y2="318" stroke="#bbb" stroke-width="1" />
<line x1="617.5" y1="257.5" x2="617.5" y2="318.5" stroke="#d8d8d8" stroke-width="1" />
<polyline points="615.0,265.5 617.5,257.5 620.0,265.5" stroke="#c2c2c2" stroke-width="1" fill="none"/>
<polyline points="615.0,310.5 617.5,318.5 620.0,310.5" stroke="#c2c2c2" stroke-width="1" fill="none"/>
<line x1="614.5" y1="257.5" x2="652.5" y2="257.5" stroke="#cfcfcf" stroke-width="1" />
<line x1="614.5" y1="318.5" x2="652.5" y2="318.5" stroke="#cfcfcf" stroke-width="1" />
<text transform="matrix(0,-0.12111,0.09701,0,612.903,295.597)" font-family='"Liberation Serif", serif' font-size="100" fill="#7c7c7c">1</text>
<text transform="matrix(0,-0.11278,0.09701,0,612.903,290.126)" font-family='"Liberation Serif", serif' font-size="100" fill="#7c7c7c">3</text>
<text transform="matrix(0,-0.11560,0.09701,0,612.903,285.118)" font-family='"Liberation Serif", serif' font-size="100" fill="#7c7c7c">5</text>
<line x1="631.5" y1="341.5" x2="825.5" y2="341.5" stroke="#d8d8d8" stroke-width="1" />
<polyline points="639.5,339.0 631.5,341.5 639.5,344.0" stroke="#c2c2c2" stroke-width="1" fill="none"/>
<polyline points="647.5,339.0 655.5,341.5 647.5,344.0" stroke="#c2c2c2" stroke-width="1" fill="none"/>
<polyline points="663.5,339.0 655.5,341.5 663.5,344.0" stroke="#c2c2c2" stroke-width="1" fill="none"/>
<polyline points="817.5,339.0 825.5,341.5 817.5,344.0" stroke="#c2c2c2" stroke-width="1" fill="none"/>
<line x1="825.5" y1="341.5" x2="857" y2="341.5" stroke="#d8d8d8" stroke-width="1" />
<polyline points="833.5,339.0 825.5,341.5 833.5,344.0" stroke="#c2c2c2" stroke-width="1" fill="none"/>
<line x1="631.5" y1="325.5" x2="631.5" y2="344" stroke="#cfcfcf" stroke-width="1" />
<line x1="655.5" y1="325.5" x2="655.5" y2="344" stroke="#cfcfcf" stroke-width="1" />
<line x1="825.5" y1="325.5" x2="825.5" y2="344" stroke="#cfcfcf" stroke-width="1" />
<text transform="matrix(0.11013,0,0,0.10299,638.239,336.797)" font-family='"Liberation Serif", serif' font-size="100" fill="#7c7c7c">5</text>
<text transform="matrix(0.10745,0,0,0.10299,643.258,336.797)" font-family='"Liberation Serif", serif' font-size="100" fill="#7c7c7c">3</text>
<text transform="matrix(0.11808,0,0,0.11194,732.110,337.288)" font-family='"Liberation Serif", serif' font-size="100" fill="#7c7c7c">3</text>
<text transform="matrix(0.11808,0,0,0.11194,737.371,337.288)" font-family='"Liberation Serif", serif' font-size="100" fill="#7c7c7c">7</text>
<text transform="matrix(0.11259,0,0,0.11194,743.121,337.288)" font-family='"Liberation Serif", serif' font-size="100" fill="#7c7c7c">9</text>
<text transform="matrix(0.11158,0,0,0.11493,839.554,336.885)" font-family='"Liberation Serif", serif' font-size="100" fill="#7c7c7c">0</text>
<text transform="matrix(0.11158,0,0,0.11493,846.155,336.885)" font-family='"Liberation Serif", serif' font-size="100" fill="#7c7c7c">.</text>
<text transform="matrix(0.11716,0,0,0.11493,849.711,336.885)" font-family='"Liberation Serif", serif' font-size="100" fill="#7c7c7c">5</text>
<line x1="812.5" y1="303" x2="812.5" y2="317.5" stroke="#d8d8d8" stroke-width="1" />
<polyline points="810.0,309.5 812.5,317.5 815.0,309.5" stroke="#c2c2c2" stroke-width="1" fill="none"/>
<line x1="812.5" y1="325.5" x2="812.5" y2="369" stroke="#d8d8d8" stroke-width="1" />
<polyline points="810.0,333.5 812.5,325.5 815.0,333.5" stroke="#c2c2c2" stroke-width="1" fill="none"/>
<text transform="matrix(0,-0.11482,0.10448,0,808.396,368.074)" font-family='"Liberation Serif", serif' font-size="100" fill="#7c7c7c">3</text>
<text transform="matrix(0,-0.11482,0.10448,0,808.396,362.729)" font-family='"Liberation Serif", serif' font-size="100" fill="#7c7c7c">2</text>
<text transform="matrix(0,-0.11209,0.10448,0,808.396,356.086)" font-family='"Liberation Serif", serif' font-size="100" fill="#7c7c7c">.</text>
<text transform="matrix(0,-0.11769,0.10448,0,808.396,352.514)" font-family='"Liberation Serif", serif' font-size="100" fill="#7c7c7c">5</text>
<circle cx="581.1" cy="151.9" r="11.4" stroke="#777" stroke-width="1" fill="none"/>
<line x1="592.5" y1="156.2" x2="672" y2="185.5" stroke="#6a6a6a" stroke-width="1" />
<polyline points="660.4487252548116,183.58739660118135 672,185.5 661.9703101371052,179.45886424137416" stroke="#aaa" stroke-width="1" fill="none"/>
<text transform="matrix(0.15508,0,0,0.14925,573.851,156.851)" font-family='"Liberation Serif", serif' font-size="100" fill="#858585">1</text>
<text transform="matrix(0.14442,0,0,0.14925,581.001,156.851)" font-family='"Liberation Serif", serif' font-size="100" fill="#858585">2</text>
<circle cx="574.6" cy="237" r="11.4" stroke="#777" stroke-width="1" fill="none"/>
<line x1="586" y1="234.6" x2="706" y2="209.5" stroke="#6a6a6a" stroke-width="1" />
<polyline points="695.1940207752131,214.00786124381295 706,209.5 694.2931826393825,209.7010653753008" stroke="#aaa" stroke-width="1" fill="none"/>
<text transform="matrix(0.15135,0,0,0.14925,567.379,241.851)" font-family='"Liberation Serif", serif' font-size="100" fill="#858585">1</text>
<text transform="matrix(0.13759,0,0,0.14925,574.371,241.851)" font-family='"Liberation Serif", serif' font-size="100" fill="#858585">0</text>
<circle cx="575.6" cy="262.2" r="11.4" stroke="#777" stroke-width="1" fill="none"/>
<line x1="587" y1="262.2" x2="672" y2="265.5" stroke="#6a6a6a" stroke-width="1" />
<polyline points="660.4233095286969,267.2522093857871 672,265.5 660.5940044651721,262.8555216280925" stroke="#aaa" stroke-width="1" fill="none"/>
<text transform="matrix(0.15135,0,0,0.14925,568.379,267.151)" font-family='"Liberation Serif", serif' font-size="100" fill="#858585">1</text>
<text transform="matrix(0.15135,0,0,0.14925,574.800,267.151)" font-family='"Liberation Serif", serif' font-size="100" fill="#858585">1</text>
<circle cx="581.4" cy="350" r="9.35" stroke="#777" stroke-width="1" fill="none"/>
<line x1="589" y1="344.1" x2="655.5" y2="300.5" stroke="#6a6a6a" stroke-width="1" />
<polyline points="647.0890133781179,308.6452626751088 655.5,300.5 644.6764964851229,304.9656210837288" stroke="#aaa" stroke-width="1" fill="none"/>
<text transform="matrix(0.14884,0,0,0.15522,577.605,355.645)" font-family='"Liberation Serif", serif' font-size="100" fill="#858585">6</text>
<circle cx="675.8" cy="367" r="9.35" stroke="#777" stroke-width="1" fill="none"/>
<line x1="681" y1="358.7" x2="716.7" y2="312" stroke="#6a6a6a" stroke-width="1" />
<polyline points="711.463575847881,322.47233794809466 716.7,312 707.9679765016042,319.80011318017006" stroke="#aaa" stroke-width="1" fill="none"/>
<text transform="matrix(0.14884,0,0,0.15522,672.153,372.645)" font-family='"Liberation Serif", serif' font-size="100" fill="#858585">9</text>
<circle cx="744.7" cy="369.2" r="9.35" stroke="#777" stroke-width="1" fill="none"/>
<line x1="749.8" y1="360" x2="770.5" y2="326" stroke="#6a6a6a" stroke-width="1" />
<polyline points="766.3988237034042,336.9667840766672 770.5,326 762.640563525942,334.6786668509769" stroke="#aaa" stroke-width="1" fill="none"/>
<text transform="matrix(0.16000,0,0,0.15758,740.540,374.842)" font-family='"Liberation Serif", serif' font-size="100" fill="#858585">5</text>
<circle cx="892.7" cy="295.1" r="9.35" stroke="#777" stroke-width="1" fill="none"/>
<line x1="883.7" y1="293.4" x2="834.5" y2="282.5" stroke="#6a6a6a" stroke-width="1" />
<polyline points="846.2036198804108,282.8395315815284 834.5,282.5 845.2518995618775,287.13537008353137" stroke="#aaa" stroke-width="1" fill="none"/>
<text transform="matrix(0.15610,0,0,0.16000,888.563,300.800)" font-family='"Liberation Serif", serif' font-size="100" fill="#858585">7</text>
<circle cx="896.2" cy="183.3" r="9.35" stroke="#777" stroke-width="1" fill="none"/>
<line x1="887.3" y1="181.8" x2="834.5" y2="171" stroke="#6a6a6a" stroke-width="1" />
<polyline points="846.2075934407767,171.1491838646885 834.5,171 845.3258500017223,175.45992956673177" stroke="#aaa" stroke-width="1" fill="none"/>
<text transform="matrix(0.15238,0,0,0.15522,892.390,188.945)" font-family='"Liberation Serif", serif' font-size="100" fill="#858585">8</text>
<rect x="558" y="688" width="1.2000000000000455" height="1" fill="#7a7a7a"/>
<rect x="570" y="688" width="1.2000000000000455" height="1" fill="#7a7a7a"/>
<rect x="697" y="688" width="1.2000000000000455" height="1" fill="#7a7a7a"/>
<rect x="723" y="688" width="1.2000000000000455" height="1" fill="#7a7a7a"/>
<rect x="887" y="688" width="1.2000000000000455" height="1" fill="#7a7a7a"/>
</svg>
</body></html>
